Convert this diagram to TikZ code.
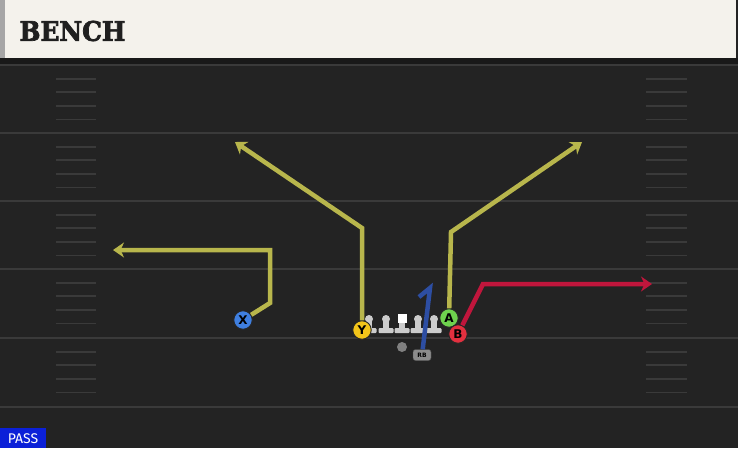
\documentclass[tikz,border=0pt]{standalone}
\usepackage{fontspec}
\setsansfont{DejaVu Sans}
\newfontfamily\titlefont{DejaVu Serif}[BoldFeatures={FakeStretch=0.92, FakeBold=2.6}]
\newfontfamily\tagfont{Fira Sans}
\usetikzlibrary{positioning,arrows.meta}

\definecolor{field}{HTML}{232323}
\definecolor{fieldline}{HTML}{3A3A3A}
\definecolor{header}{HTML}{F4F2EC}
\definecolor{routeyel}{HTML}{B8B64C}
\definecolor{routered}{HTML}{C0163C}
\definecolor{routeblue}{HTML}{2D4EA3}
\definecolor{xblue}{HTML}{3F7FE0}
\definecolor{yyel}{HTML}{F3C51A}
\definecolor{agreen}{HTML}{6ED24E}
\definecolor{bred}{HTML}{E2303F}
\definecolor{passblue}{HTML}{0B20D8}

\begin{document}
\begin{tikzpicture}[
			x=1pt, y=-1pt,
			player/.style = {draw=black!85, circle, line width=.9pt, minimum size=18.5pt, inner sep=0pt, font=\sffamily\bfseries\fontsize{12}{12}\selectfont},
			route/.style = {line width=4.5pt, line join=miter, -{Stealth[length=11pt, width=15pt, inset=3.5pt]}},
			yard/.style = {fieldline, line width=2pt},
			hash/.style = {fieldline, line width=1.8pt},
			lineman/.pic = {
				\fill[black!20] (-3,-13) rectangle (3,-3);
				\fill[black!20, rounded corners=1pt] (-7.5,-5) rectangle (7.5,0);
				\fill[black!20] (0,-14) circle (4);
			},
			centre/.pic = {
				\fill[black!20] (-3,-10) rectangle (3,-3);
				\fill[black!20, rounded corners=1pt] (-7.5,-5) rectangle (7.5,0);
				\fill[white] (-4.5,-19) rectangle (4.5,-10);
			}
		]
		\useasboundingbox (0,0) rectangle (738,448);
		\fill[field] (0,0) rectangle (738,448);
		% Header.
		\fill[black!90] (0,58) rectangle (738,64);
		\fill[header] (0,0) rectangle (736,58);
		\fill[black!35] (0,0) rectangle (5,58);
		\node[anchor=west, font=\titlefont\bfseries\fontsize{27}{27}\selectfont, text=black!88] (title) at (16,31) {BENCH};
		% Field.
		\foreach \y in {65,133,201,269,338,407} {
			\draw[yard] (0,\y) -- (738,\y);
		}
		\foreach \y in {65,133,201,269,338} {
			\foreach \k in {1,...,4} {
				\draw[hash] (56,\y+13.6*\k) -- (96,\y+13.6*\k);
				\draw[hash] (646,\y+13.6*\k) -- (687,\y+13.6*\k);
			}
		}
		% Line.
		\foreach \x in {369,386,418,434} {
			\pic at (\x,333) {lineman};
		}
		\pic at (402,333) {centre};
		\node[circle, fill=black!50, inner sep=0pt, minimum size=10pt] (qb) at (402,347) {};
		\node[draw=black!70, fill=black!45, rounded corners=2.5pt, inner sep=1pt, minimum width=18pt, minimum height=11pt, font=\sffamily\bfseries\fontsize{6}{6}\selectfont] (rb) at (422,355) {RB};
		% Players.
		\node[player, fill=xblue] (x) at (243,320) {X};
		\node[player, fill=yyel] (y) at (362,330) {Y};
		\node[player, fill=agreen] (a) at (449,318) {A};
		\node[player, fill=bred] (b) at (458,334) {B};
		% Routes.
		\coordinate (xend) at (113,250);
		\coordinate (yend) at (235,142);
		\coordinate (aend) at (582,142);
		\coordinate (bend) at (652,284);
		\draw[route, routeyel] (x) -- (270,303) -- (270,250) -- (xend);
		\draw[route, routeyel] (y) -- (362,228) -- (yend);
		\draw[route, routeyel] (a) -- (451,232) -- (aend);
		\draw[route, routered] (b) -- (483,284) -- (bend);
		\draw[routeblue, line width=4.5pt, line join=miter] (rb) -- (430,288) -- (419,297);
		% Play type.
		\fill[passblue] (0,428) rectangle (46,448);
		\node[text=white, font=\tagfont\fontsize{14}{14}\selectfont] (pass) at (23,438.5) {PASS};
	\end{tikzpicture}
\end{document}
